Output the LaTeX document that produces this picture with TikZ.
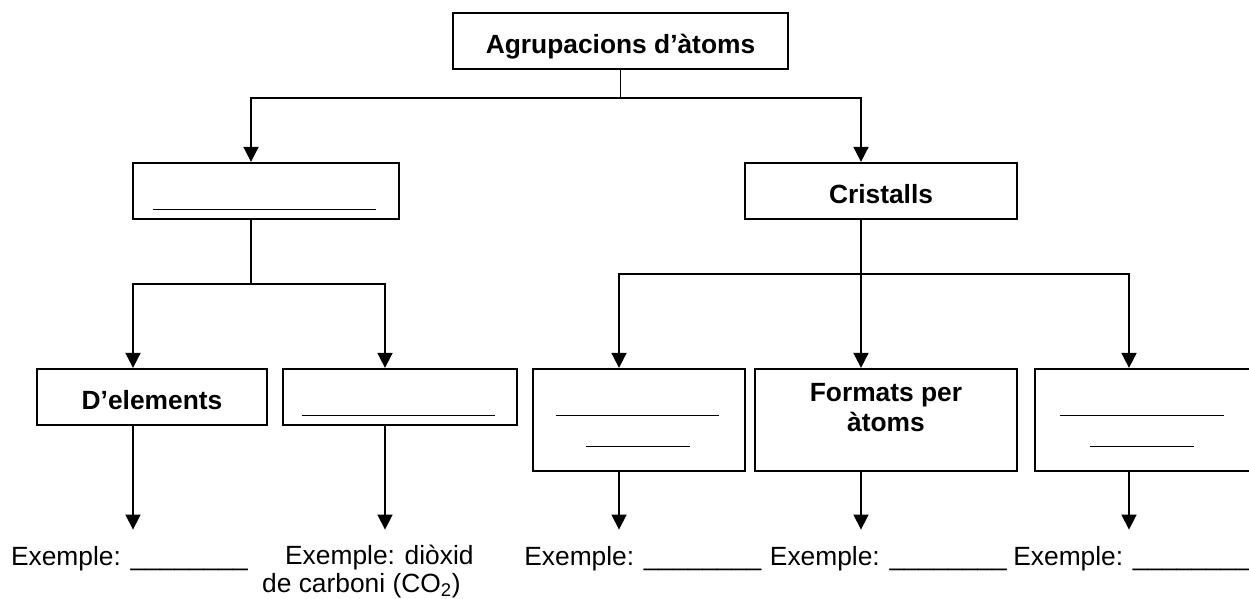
\documentclass[tikz,border=0pt]{standalone}
\usepackage{fontspec}
\setmainfont{Liberation Sans}
\usetikzlibrary{arrows.meta,calc}

\begin{document}
\begin{tikzpicture}[x=0.02cm,y=-0.02cm,
		box/.style={draw,line width=1.3pt,inner sep=0pt,align=center,font=\bfseries\fontsize{15}{17}\selectfont},
		oneline/.style={text height=0.48cm,text depth=0pt},
		link/.style={line width=1pt},
		arr/.style={link,-{Triangle[width=0.3cm,length=0.3cm]}},
		blank/.style={line width=0.7pt},
		ex/.style={anchor=base west,inner sep=0pt,align=left,font=\fontsize{15}{15.5}\selectfont}]
	\useasboundingbox (0,0) rectangle (1249,599);
	\clip (0,0) rectangle (1249,599);

	\begin{scope}
		\node[box,oneline,minimum width=6.7cm,minimum height=1.12cm] (top) at (620.5,41) {Agrupacions d’àtoms};
		\node[box,minimum width=5.32cm,minimum height=1.12cm] (b1) at (266,191) {};
		\node[box,oneline,minimum width=5.44cm,minimum height=1.12cm] (cris) at (881,191) {Cristalls};
		\node[box,oneline,minimum width=4.6cm,minimum height=1.12cm] (elem) at (152,397) {D’elements};
		\node[box,minimum width=4.68cm,minimum height=1.12cm] (b2) at (400,397) {};
		\node[box,minimum width=4.24cm,minimum height=2.04cm] (b3) at (639,420) {};
		\node[box,minimum width=5.24cm,minimum height=2.04cm,text depth=0.52cm] (fmt) at (886,420) {Formats per\\àtoms};
		\node[box,minimum width=4.9cm,minimum height=2.04cm] (b5) at (1157.5,420) {};
	\end{scope}

	% blanks to fill in
	\draw[blank] ($(b1.south west)+(21,-11)$) -- ++(223,0);
	\draw[blank] ($(b2.south west)+(20,-11)$) -- ++(193,0);
	\draw[blank] ($(b3.south west)+(24,-57)$) -- ++(163,0);
	\draw[blank] ($(b3.south west)+(54,-26)$) -- ++(104,0);
	\draw[blank] ($(b5.south west)+(26,-57)$) -- ++(164,0);
	\draw[blank] ($(b5.south west)+(56,-26)$) -- ++(104,0);

	\begin{scope}
		\draw[arr] (top.south) -- ++(0,28) -| ([xshift=-0.3cm]b1.north);
		\draw[arr] (top.south) -- ++(0,28) -| ([xshift=-0.4cm]cris.north);

		\draw[link] ([xshift=-0.3cm]b1.south) -- ++(0,64) coordinate (j1);
		\draw[arr] (j1) -| ([xshift=-0.38cm]elem.north);
		\draw[arr] (j1) -| ([xshift=-0.3cm]b2.north);

		\draw[link] ([xshift=-0.4cm]cris.south) -- ++(0,54) coordinate (j2);
		\draw[arr] (j2) -| ([xshift=-0.4cm]b3.north);
		\draw[arr] (j2) -- ([xshift=-0.5cm]fmt.north);
		\draw[arr] (j2) -| ([xshift=-0.57cm]b5.north);
	\end{scope}

	\node[ex] (ex1) at (10.7,565) {Exemple: \_\_\_\_\_\_\_\_};
	\node[ex] (ex2) at (261.8,592) {\hspace*{0.46cm}Exemple: diòxid\\de carboni (CO\textsubscript{2})};
	\node[ex] (ex3) at (524,565) {Exemple: \_\_\_\_\_\_\_\_};
	\node[ex] (ex4) at (769.6,565) {Exemple: \_\_\_\_\_\_\_\_};
	\node[ex] (ex5) at (1013,565) {Exemple: \_\_\_\_\_\_\_\_};

	\begin{scope}[every path/.style={arr}]
		\draw ([xshift=-0.38cm]elem.south) -- ([xshift=-0.38cm,yshift=0.32cm]elem.south |- ex1.north);
		\draw ([xshift=-0.3cm]b2.south) -- ([xshift=-0.3cm,yshift=0.32cm]b2.south |- ex1.north);
		\draw ([xshift=-0.4cm]b3.south) -- ([xshift=-0.4cm,yshift=0.32cm]b3.south |- ex3.north);
		\draw ([xshift=-0.5cm]fmt.south) -- ([xshift=-0.5cm,yshift=0.32cm]fmt.south |- ex4.north);
		\draw ([xshift=-0.57cm]b5.south) -- ([xshift=-0.57cm,yshift=0.32cm]b5.south |- ex5.north);
	\end{scope}
\end{tikzpicture}
\end{document}
